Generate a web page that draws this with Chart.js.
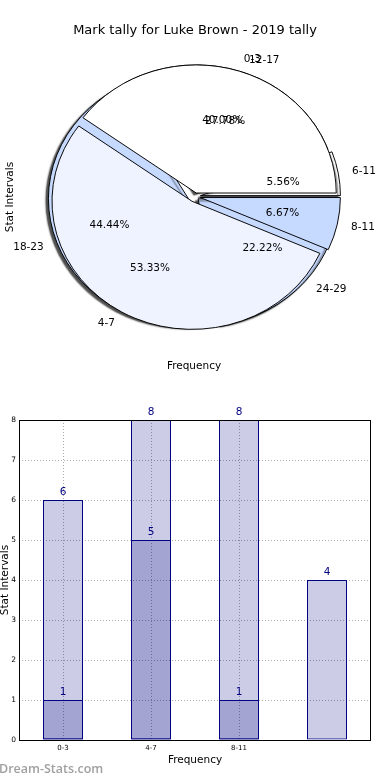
<!DOCTYPE html>
<html>
<head>
<meta charset="utf-8">
<script src="https://cdn.jsdelivr.net/npm/chart.js@4.4.1/dist/chart.umd.min.js"></script>
<style>
  html, body { margin: 0; padding: 0; background: #fff; }
  body { width: 390px; height: 780px; position: relative; overflow: hidden; }
  canvas { position: absolute; left: 0; }
  #pieBack, #pieFront { top: 0; }
  #bars { top: 400px; }
</style>
</head>
<body>
<canvas id="pieBack" width="390" height="393"></canvas>
<canvas id="pieFront" width="390" height="393"></canvas>
<canvas id="bars" width="390" height="380"></canvas>
<script>
// data
const chartTitle = "Mark tally for Luke Brown - 2019 tally";
const frontLabels = ["0-3", "4-7", "8-11"];
const frontValues = [6, 8, 1];
const backLabels = ["6-11", "12-17", "18-23", "24-29"];
const backValues = [1, 5, 8, 4];
const barLabels = ["0-3", "4-7", "8-11", ""];
const lightValues = [6, 8, 8, 4];
const darkValues = [1, 5, 1, null];

// styles
const FONT = "DejaVu Sans";
const RX = 140;
const SQUASH = 0.915; // the pie is drawn as an ellipse
const frontColors = ["#ffffff", "#eef3ff", "#c6d9ff"];
const frontExplode = [4, 6, 5.5];
const backColors = ["#ffffff", "#ffffff", "#c6d9ff", "#c6d9ff"];
const backExplode = [5.5, 4, 7, 4];

const rev = a => a.slice().reverse();

// squash the arcs vertically and push each slice out on its own
const squashPlugin = (explode, shadow) => ({
    id: "squash",
    beforeDatasetsDraw(chart) {
        const ctx = chart.ctx;
        const c = chart.getDatasetMeta(0).data[0];
        ctx.save();
        ctx.translate(c.x, c.y);
        ctx.scale(1, SQUASH);
        ctx.translate(-c.x, -c.y);
    },
    beforeDatasetDraw(chart, args) {
        const ctx = chart.ctx;
        args.meta.data.forEach((arc, i) => {
            const mid = (arc.startAngle + arc.endAngle) / 2;
            ctx.save();
            ctx.translate(Math.cos(mid) * explode[i], Math.sin(mid) * explode[i]);
            if (shadow) {
                ctx.shadowColor = "rgba(0,0,0,0.7)";
                ctx.shadowOffsetX = -2.5;
                ctx.shadowOffsetY = 2;
                ctx.shadowBlur = 1.5;
            }
            arc.draw(ctx);
            ctx.restore();
        });
        return false;
    },
    afterDatasetsDraw(chart) {
        chart.ctx.restore();
    }
});

function drawSliceText(ctx, chart, explode) {
    const meta = chart.getDatasetMeta(0);
    const values = chart.data.datasets[0].data;
    const total = values.reduce((a, b) => a + b, 0);
    meta.data.forEach((arc, i) => {
        const mid = (arc.startAngle + arc.endAngle) / 2;
        const c = Math.cos(mid), s = Math.sin(mid);
        const rl = arc.outerRadius * 1.1 + explode[i];
        const rp = arc.outerRadius * 0.6 + explode[i];
        ctx.textAlign = c > 0 ? "left" : "right";
        ctx.fillText(chart.data.labels[i], arc.x + c * rl, arc.y + s * rl * SQUASH);
        ctx.textAlign = "center";
        ctx.fillText((values[i] / total * 100).toFixed(2) + "%", arc.x + c * rp, arc.y + s * rp * SQUASH);
    });
}

function pieConfig(labels, values, colors, explode, shadow, extraPlugins) {
    // matplotlib goes counter-clockwise from 3 o'clock, Chart.js clockwise,
    // so the slices go in reversed
    return {
        type: "pie",
        data: {
            labels: rev(labels),
            datasets: [{
                data: rev(values),
                backgroundColor: rev(colors),
                borderColor: "#000",
                borderWidth: 1,
                borderJoinStyle: "miter"
            }]
        },
        options: {
            responsive: false,
            animation: false,
            events: [],
            rotation: 90,
            radius: RX,
            plugins: { legend: { display: false }, tooltip: { enabled: false } }
        },
        plugins: [squashPlugin(rev(explode), shadow)].concat(extraPlugins)
    };
}

const backChart = new Chart(document.getElementById("pieBack"),
    pieConfig(backLabels, backValues, backColors, backExplode, true, []));

const pieText = {
    id: "pieText",
    afterDraw(chart) {
        const ctx = chart.ctx;
        ctx.save();
        ctx.fillStyle = "#000";
        ctx.textBaseline = "middle";
        ctx.font = `13px ${FONT}`;
        ctx.textAlign = "center";
        ctx.fillText(chartTitle, 195, 30.5);
        ctx.font = `10.5px ${FONT}`;
        ctx.fillText("Frequency", 194, 366);
        ctx.save();
        ctx.translate(10, 197);
        ctx.rotate(-Math.PI / 2);
        ctx.fillText("Stat Intervals", 0, 0);
        ctx.restore();
        drawSliceText(ctx, backChart, rev(backExplode));
        drawSliceText(ctx, chart, rev(frontExplode));
        ctx.restore();
    }
};

new Chart(document.getElementById("pieFront"),
    pieConfig(frontLabels, frontValues, frontColors, frontExplode, false, [pieText]));

// bar chart
const barText = {
    id: "barText",
    afterDatasetsDraw(chart) {
        const ctx = chart.ctx;
        const a = chart.chartArea;
        ctx.save();
        ctx.strokeStyle = "#000";
        ctx.lineWidth = 1;
        ctx.strokeRect(Math.round(a.left) + 0.5, Math.round(a.top) + 0.5,
            Math.round(a.right - a.left) - 1, Math.round(a.bottom - a.top));
        ctx.font = `10.5px ${FONT}`;
        ctx.fillStyle = "#000080";
        ctx.textAlign = "center";
        ctx.textBaseline = "alphabetic";
        chart.data.datasets.forEach((ds, di) => {
            chart.getDatasetMeta(di).data.forEach((bar, i) => {
                if (ds.data[i] == null) return;
                ctx.fillText(String(ds.data[i]), bar.x, bar.y - 5);
            });
        });
        ctx.font = `600 12.5px "Open Sans"`;
        ctx.fillStyle = "#a0a0a0";
        ctx.textAlign = "left";
        ctx.textBaseline = "middle";
        ctx.fillText("Dream-Stats.com", -1, 369);
        ctx.restore();
    }
};

const gridGray = "#aaaaaa";
const barStyle = {
    grouped: false,
    barPercentage: 40 / 88,
    categoryPercentage: 1,
    backgroundColor: "rgba(0,0,128,0.2)",
    borderColor: "#000080",
    borderWidth: 1,
    borderSkipped: false
};

new Chart(document.getElementById("bars"), {
    type: "bar",
    data: {
        labels: barLabels,
        datasets: [
            { data: lightValues, ...barStyle },
            { data: darkValues, ...barStyle }
        ]
    },
    options: {
        responsive: false,
        animation: false,
        events: [],
        layout: { padding: { top: 20, right: 19, bottom: 14, left: 0 } },
        plugins: { legend: { display: false }, tooltip: { enabled: false } },
        scales: {
            x: {
                afterFit(scale) { scale.height = 26; },
                grid: {
                    offset: false,
                    drawTicks: false,
                    color: c => c.index < 3 ? gridGray : "rgba(0,0,0,0)"
                },
                border: { display: false, dash: [1, 2] },
                ticks: { padding: 4, color: "#000", font: { family: FONT, size: 7 } },
                title: {
                    display: true, text: "Frequency", color: "#000", padding: 0,
                    font: { family: FONT, size: 10.5, lineHeight: 1 }
                }
            },
            y: {
                min: 0,
                max: 8,
                afterFit(scale) { scale.width = 19; },
                grid: { drawTicks: false, color: gridGray },
                border: { display: false, dash: [1, 2] },
                ticks: { stepSize: 1, padding: 3, color: "#000", font: { family: FONT, size: 7.5 } },
                title: {
                    display: true, text: "Stat Intervals", color: "#000", padding: 0,
                    font: { family: FONT, size: 10.5, lineHeight: 1 }
                }
            }
        }
    },
    plugins: [barText]
});
</script>
</body>
</html>
